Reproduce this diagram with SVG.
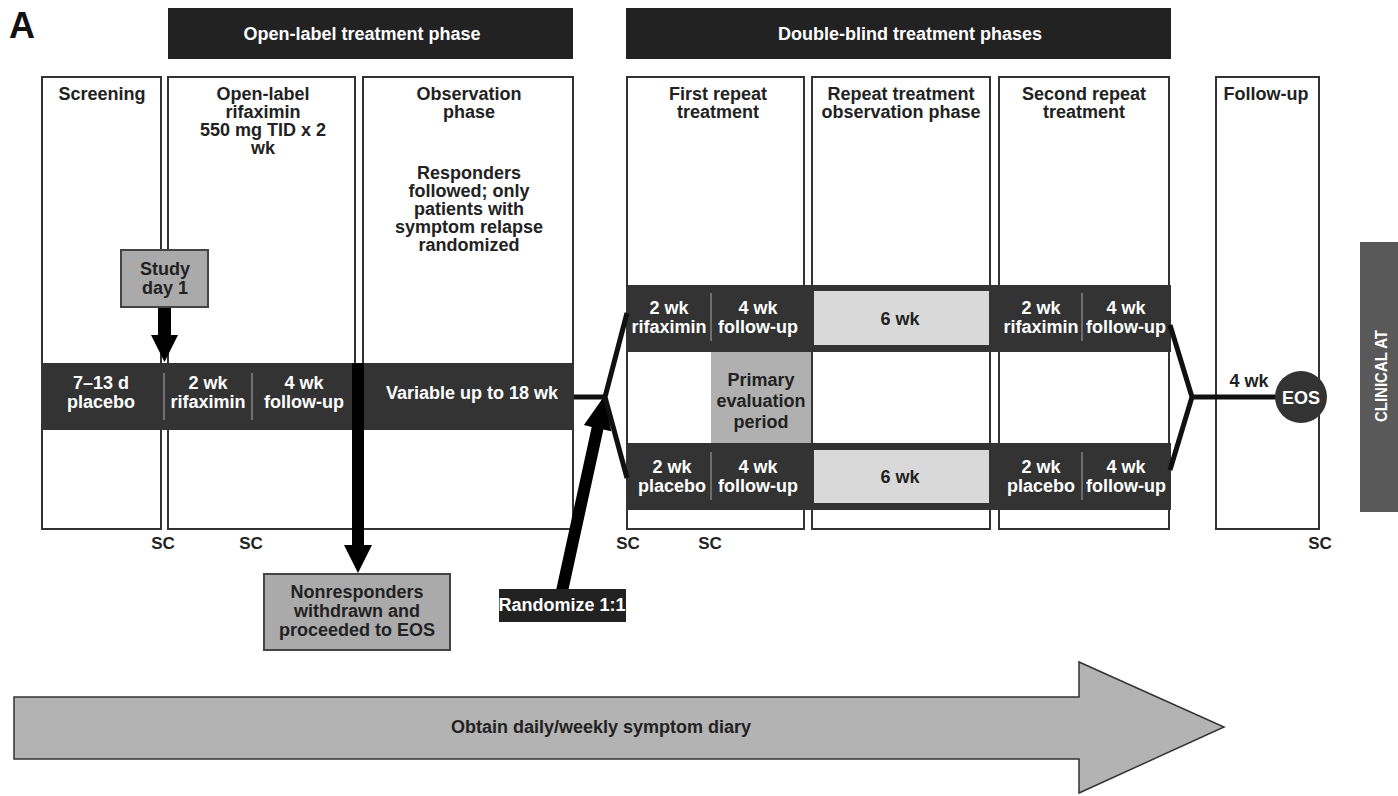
<svg xmlns="http://www.w3.org/2000/svg" width="1398" height="796" viewBox="0 0 1398 796">
<style>
text{font-family:"Liberation Sans",Arial,Helvetica,sans-serif;font-weight:bold}
.t{font-size:18px;fill:#222;text-anchor:middle}
.w{font-size:18px;fill:#fff;text-anchor:middle}
.box{fill:#fff;stroke:#333;stroke-width:2}
.bar{fill:#333}
.hdr{fill:#222}
.lt{fill:#d9d9d9}
.gr{fill:#aaa;stroke:#444;stroke-width:2}
.sep{stroke:#aaa;stroke-width:1}
.sc{font-size:17px;fill:#222;text-anchor:middle}
.ln{stroke:#111;stroke-width:5;fill:none;stroke-linejoin:miter}
.arr{fill:#000}
</style>
<rect width="1398" height="796" fill="#fff"/>
<text x="9" y="38" font-size="36" fill="#111">A</text>

<g id="hdr-open">
<rect class="hdr" x="168" y="8" width="405" height="51"/>
<text class="w" x="362" y="40">Open-label treatment phase</text>
</g>
<g id="hdr-double">
<rect class="hdr" x="626" y="8" width="545" height="51"/>
<text class="w" x="910" y="40">Double-blind treatment phases</text>
</g>

<g id="screening">
<rect class="box" x="42" y="77" width="119" height="452"/>
<text class="t" x="102" y="100">Screening</text>
</g>
<g id="open-label">
<rect class="box" x="168" y="77" width="187" height="452"/>
<text class="t" x="263" y="100">Open-label</text>
<text class="t" x="263" y="118">rifaximin</text>
<text class="t" x="263" y="136">550 mg TID x 2</text>
<text class="t" x="263" y="154">wk</text>
</g>
<g id="observation">
<rect class="box" x="363" y="77" width="210" height="452"/>
<text class="t" x="469" y="100">Observation</text>
<text class="t" x="469" y="118">phase</text>
<text class="t" x="469" y="179">Responders</text>
<text class="t" x="469" y="197">followed; only</text>
<text class="t" x="469" y="215">patients with</text>
<text class="t" x="469" y="233">symptom relapse</text>
<text class="t" x="469" y="251">randomized</text>
</g>
<g id="first-repeat">
<rect class="box" x="627" y="77" width="177" height="452"/>
<text class="t" x="718" y="100">First repeat</text>
<text class="t" x="718" y="118">treatment</text>
</g>
<g id="repeat-observation">
<rect class="box" x="812" y="77" width="178" height="452"/>
<text class="t" x="901" y="100">Repeat treatment</text>
<text class="t" x="901" y="118">observation phase</text>
</g>
<g id="second-repeat">
<rect class="box" x="999" y="77" width="170" height="452"/>
<text class="t" x="1084" y="100">Second repeat</text>
<text class="t" x="1084" y="118">treatment</text>
</g>
<g id="follow-up">
<rect class="box" x="1216" y="77" width="103" height="452"/>
<text class="t" x="1266" y="100">Follow-up</text>
</g>

<g id="bar-open-label">
<rect class="bar" x="41" y="363" width="533" height="67"/>
<line class="sep" x1="164" y1="373" x2="164" y2="420"/>
<line class="sep" x1="252" y1="373" x2="252" y2="420"/>
<text class="w" x="101" y="389">7–13 d</text>
<text class="w" x="101" y="408">placebo</text>
<text class="w" x="208" y="389">2 wk</text>
<text class="w" x="208" y="408">rifaximin</text>
<text class="w" x="304" y="389">4 wk</text>
<text class="w" x="304" y="408">follow-up</text>
<text class="w" x="472" y="399">Variable up to 18 wk</text>
</g>

<g id="bar-rifaximin">
<rect class="bar" x="626" y="285" width="545" height="67"/>
<rect class="lt" x="814" y="291" width="175" height="54"/>
<line class="sep" x1="711" y1="293" x2="711" y2="341"/>
<line class="sep" x1="1082" y1="293" x2="1082" y2="341"/>
<text class="w" x="669" y="314">2 wk</text>
<text class="w" x="669" y="333">rifaximin</text>
<text class="w" x="758" y="314">4 wk</text>
<text class="w" x="758" y="333">follow-up</text>
<text class="t" x="900" y="325">6 wk</text>
<text class="w" x="1041" y="314">2 wk</text>
<text class="w" x="1041" y="333">rifaximin</text>
<text class="w" x="1126" y="314">4 wk</text>
<text class="w" x="1126" y="333">follow-up</text>
</g>

<g id="primary-evaluation">
<rect x="711" y="352" width="100" height="91" fill="#b0b0b0"/>
<text class="t" x="761" y="386">Primary</text>
<text class="t" x="761" y="407">evaluation</text>
<text class="t" x="761" y="428">period</text>
</g>

<g id="bar-placebo">
<rect class="bar" x="626" y="443" width="545" height="67"/>
<rect class="lt" x="814" y="450" width="175" height="53"/>
<line class="sep" x1="711" y1="452" x2="711" y2="500"/>
<line class="sep" x1="1082" y1="452" x2="1082" y2="500"/>
<text class="w" x="672" y="473">2 wk</text>
<text class="w" x="672" y="492">placebo</text>
<text class="w" x="758" y="473">4 wk</text>
<text class="w" x="758" y="492">follow-up</text>
<text class="t" x="900" y="483">6 wk</text>
<text class="w" x="1041" y="473">2 wk</text>
<text class="w" x="1041" y="492">placebo</text>
<text class="w" x="1126" y="473">4 wk</text>
<text class="w" x="1126" y="492">follow-up</text>
</g>

<g id="connectors">
<polygon class="arr" points="158,307 171,307 171,335 178,335 164.5,362 151,335 158,335"/>
<polygon class="arr" points="352,363 364,363 364,545 372,545 358,573 344,545 352,545"/>
<polygon class="arr" points="605,395 611.2,431.3 603.4,429.5 567.5,594 555.8,591.4 591.7,426.9 583.9,425.1"/>
<line class="ln" x1="574" y1="397" x2="606" y2="397"/>
<polyline class="ln" points="627,313 605,397 627,478"/>
<polyline class="ln" points="1170,325 1192,397 1170,470"/>
<line class="ln" x1="1190" y1="397" x2="1280" y2="397" stroke="#222"/>
</g>

<g id="study-day-1">
<rect class="gr" x="121" y="250" width="87" height="57"/>
<text class="t" x="165" y="275" font-size="16">Study</text>
<text class="t" x="165" y="294" font-size="16">day 1</text>
</g>
<g id="nonresponders">
<rect class="gr" x="264" y="574" width="186" height="76"/>
<text class="t" x="357" y="598">Nonresponders</text>
<text class="t" x="357" y="617">withdrawn and</text>
<text class="t" x="357" y="636">proceeded to EOS</text>
</g>
<g id="randomize">
<rect x="499" y="589" width="127" height="33" fill="#222"/>
<text class="w" x="562" y="611" font-size="17">Randomize 1:1</text>
</g>
<g id="four-wk">
<text class="t" x="1249" y="387">4 wk</text>
</g>
<g id="eos">
<circle cx="1301" cy="397" r="26" fill="#333"/>
<text class="w" x="1301" y="404">EOS</text>
</g>

<g id="sc-labels">
<text class="sc" x="163" y="549">SC</text>
<text class="sc" x="251" y="549">SC</text>
<text class="sc" x="628" y="549">SC</text>
<text class="sc" x="710" y="549">SC</text>
<text class="sc" x="1320" y="549">SC</text>
</g>

<g id="clinical-tab">
<rect x="1360" y="242" width="38" height="270" fill="#595959"/>
<text transform="translate(1387,376) rotate(-90)" text-anchor="middle" font-size="17" fill="#fff" textLength="92" lengthAdjust="spacingAndGlyphs">CLINICAL AT</text>
</g>

<g id="diary-arrow">
<polygon points="14,697 1079,697 1079,662 1224,727 1079,793 1079,759 14,759" fill="#b3b3b3" stroke="#333" stroke-width="1.5"/>
<text class="t" x="601" y="733">Obtain daily/weekly symptom diary</text>
</g>
</svg>
